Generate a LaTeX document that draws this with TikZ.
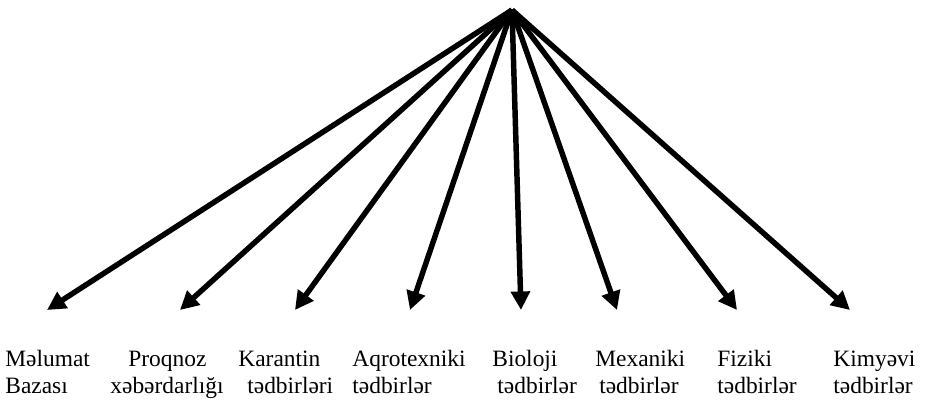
\documentclass[tikz,border=0pt]{standalone}
\usepackage{fontspec}
\setmainfont{Liberation Serif}
\usetikzlibrary{arrows.meta,positioning}
\tikzset{
  lbl/.style={anchor=base west,inner sep=0pt,align=left,
              font=\fontsize{12}{13.6}\selectfont},
  arr/.style={-{Triangle[length=9.5pt,width=9.5pt]},line width=2.8pt},
}

\begin{document}
\begin{tikzpicture}[x=0.018cm,y=0.018cm]
            \useasboundingbox (0,0) rectangle (925,404);
            \coordinate (top) at (512,394);

            % arrow tips
            \coordinate (tmel) at (47,94);
            \coordinate (tpro) at (180,94);
            \coordinate (tkar) at (295,94);
            \coordinate (taqr) at (410,94);
            \coordinate (tbio) at (521,94);
            \coordinate (tmex) at (617,94);
            \coordinate (tfiz) at (737,94);
            \coordinate (tkim) at (850,94);

            % labels (base = second line)
            \node[lbl] (mel) at (5,11) {Məlumat\\Bazası};
            \node[lbl] (pro) at (110,11) {\hspace*{9.2pt}Proqnoz\\xəbərdarlığı};
            \node[lbl] (kar) at (238,11) {Karantin\\\hspace*{4.6pt}tədbirləri};
            \node[lbl] (aqr) at (352,11) {Aqrotexniki\\tədbirlər};
            \node[lbl] (bio) at (492,11) {Bioloji\\\hspace*{2.6pt}tədbirlər};
            \node[lbl] (mex) at (595,11) {Mexaniki\\\hspace*{2pt}tədbirlər};
            \node[lbl] (fiz) at (717,11) {Fiziki\\tədbirlər};
            \node[lbl] (kim) at (833,11) {Kimyəvi\\tədbirlər};

            \foreach \t in {tmel,tpro,tkar,taqr,tbio,tmex,tfiz,tkim}
              \draw[arr] (top) -- (\t);
          \end{tikzpicture}
\end{document}
